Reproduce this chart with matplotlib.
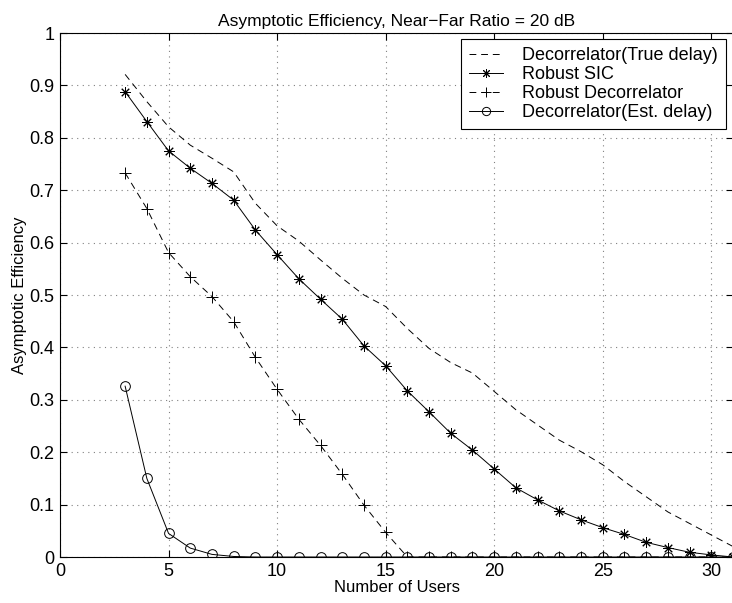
#asymptotic efficiency vs number of users, near-far ratio 20 dB
import numpy as np
import matplotlib
matplotlib.use("Agg")
import matplotlib.pyplot as plt

plt.rcParams['font.family'] = ['Liberation Sans', 'DejaVu Sans']
plt.rcParams['font.size'] = 12

#number of users (x axis)
users = list(range(3, 32))

#Decorrelator with true delay (dashed, no markers)
decor_true = [0.921, 0.869, 0.821, 0.786, 0.761, 0.735, 0.675, 0.632, 0.603,
              0.567, 0.532, 0.500, 0.478, 0.436, 0.398, 0.371, 0.351, 0.316,
              0.281, 0.252, 0.223, 0.201, 0.176, 0.144, 0.115, 0.086, 0.064,
              0.042, 0.020]

#Robust SIC (solid with stars)
robust_sic = [0.888, 0.831, 0.775, 0.742, 0.713, 0.681, 0.624, 0.577, 0.531,
              0.492, 0.454, 0.403, 0.365, 0.317, 0.277, 0.236, 0.204, 0.168,
              0.132, 0.109, 0.088, 0.071, 0.056, 0.043, 0.028, 0.018, 0.009,
              0.004, 0.0]

#Robust decorrelator (dashed with plus)
robust_decor = [0.733, 0.665, 0.581, 0.535, 0.497, 0.449, 0.381, 0.320, 0.263,
                0.213, 0.158, 0.099, 0.047, 0.0, 0.0, 0.0, 0.0, 0.0, 0.0, 0.0,
                0.0, 0.0, 0.0, 0.0, 0.0, 0.0, 0.0, 0.0, 0.0]

#Decorrelator with estimated delay (solid with circles)
decor_est = [0.326, 0.150, 0.045, 0.017, 0.005, 0.001, 0.0, 0.0, 0.0, 0.0,
             0.0, 0.0, 0.0, 0.0, 0.0, 0.0, 0.0, 0.0, 0.0, 0.0, 0.0, 0.0, 0.0,
             0.0, 0.0, 0.0, 0.0, 0.0, 0.0]

fig = plt.figure(figsize=(7.32, 6.03), dpi=100)
ax = fig.add_axes([60/732, 46/603, 673/732, 524/603])

ax.plot(users, decor_true, color='black', linestyle=(0, (7, 5)), linewidth=0.7,
        label='Decorrelator(True delay)')
ax.plot(users, robust_sic, color='black', linestyle='-', linewidth=0.7,
        marker=(8, 2, 0), markersize=7.5, markeredgewidth=0.7,
        label='Robust SIC')
ax.plot(users, robust_decor, color='black', linestyle=(0, (7, 5)), linewidth=0.7,
        marker='+', markersize=8, markeredgewidth=0.7,
        label='Robust Decorrelator')
ax.plot(users, decor_est, color='black', linestyle='-', linewidth=0.7,
        marker='o', markersize=7, markerfacecolor='none', markeredgewidth=0.7,
        label='Decorrelator(Est. delay)')

ax.set_xlim(0, 31)
ax.set_ylim(0, 1)
ax.set_xticks(np.arange(0, 31, 5))
ax.set_yticks(np.arange(0, 1.01, 0.1))
ax.set_yticklabels(['0', '0.1', '0.2', '0.3', '0.4', '0.5', '0.6', '0.7',
                    '0.8', '0.9', '1'])
ax.tick_params(direction='in', top=True, right=True, length=5, width=0.8,
               labelsize=13, pad=4)
for s in ax.spines.values():
    s.set_linewidth(0.8)

ax.grid(True, color='gray', linestyle=(0, (1, 4)), linewidth=0.8)

ax.set_title('Asymptotic Efficiency, Near\u2212Far Ratio = 20 dB', fontsize=12.5, pad=5)
ax.set_xlabel('Number of Users', fontsize=12, labelpad=0)
ax.set_ylabel('Asymptotic Efficiency', fontsize=12, labelpad=2)

leg = ax.legend(loc='upper right', bbox_to_anchor=(0.99, 0.988), fontsize=13,
                fancybox=False, framealpha=1, edgecolor='black',
                handlelength=1.9, markerscale=0.85, numpoints=1,
                borderpad=0.45, labelspacing=0.1, handletextpad=1.05,
                borderaxespad=0)
leg.get_frame().set_linewidth(0.8)

fig.savefig('out.png', dpi=100)
